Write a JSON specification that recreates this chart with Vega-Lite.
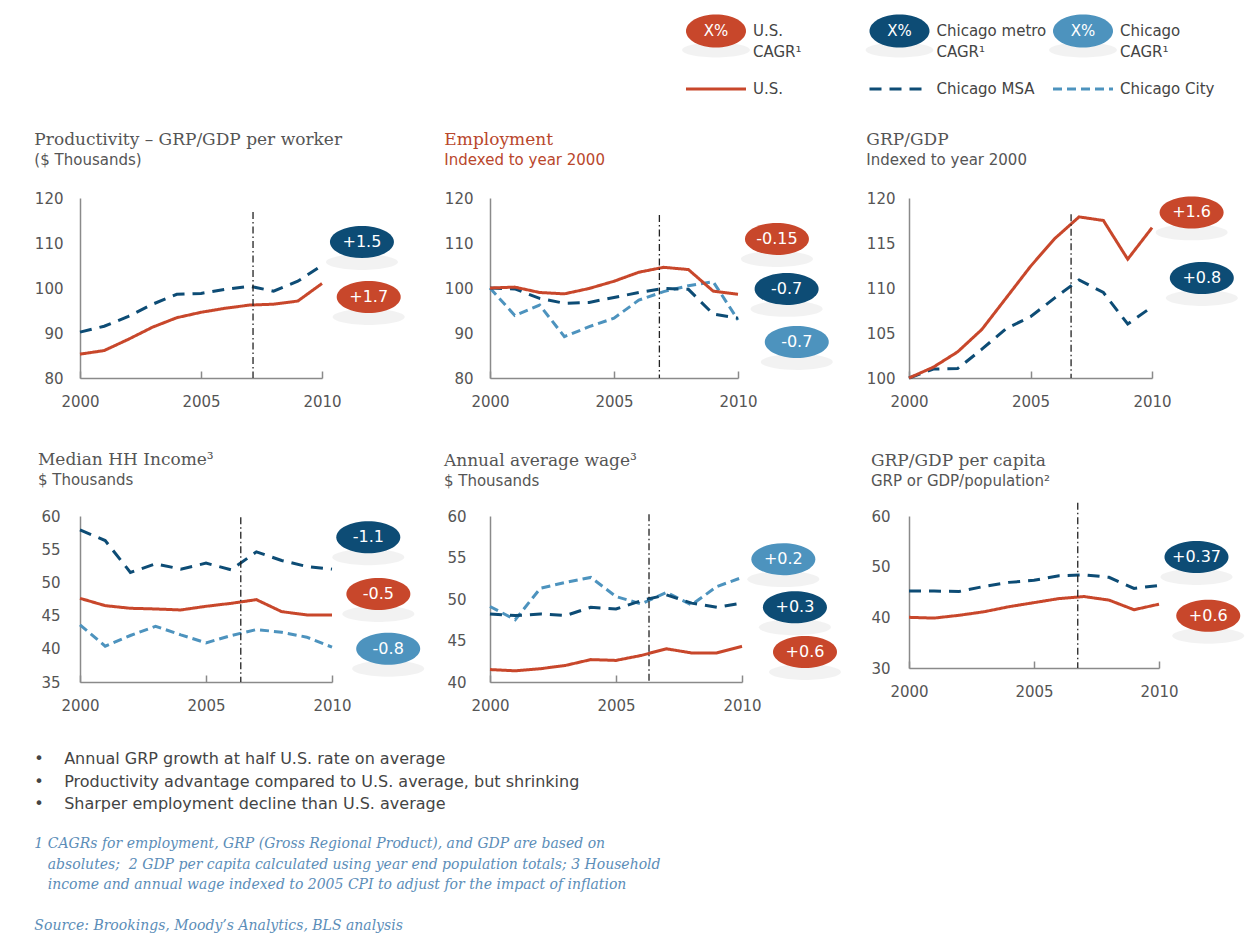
{
  "$schema": "https://vega.github.io/schema/vega-lite/v6.json",
  "padding": {"left": 34, "top": 14, "right": 5, "bottom": 5},
  "background": "white",
  "datasets": {
    "series": [
      {"panel": "prod", "year": 2000, "US": 85.3, "MSA": 90.2},
      {"panel": "prod", "year": 2001, "US": 86.1, "MSA": 91.5},
      {"panel": "prod", "year": 2002, "US": 88.6, "MSA": 93.7},
      {"panel": "prod", "year": 2003, "US": 91.3, "MSA": 96.4},
      {"panel": "prod", "year": 2004, "US": 93.4, "MSA": 98.6},
      {"panel": "prod", "year": 2005, "US": 94.6, "MSA": 98.8},
      {"panel": "prod", "year": 2006, "US": 95.5, "MSA": 99.7},
      {"panel": "prod", "year": 2007, "US": 96.2, "MSA": 100.4},
      {"panel": "prod", "year": 2008, "US": 96.4, "MSA": 99.3},
      {"panel": "prod", "year": 2009, "US": 97.1, "MSA": 101.5},
      {"panel": "prod", "year": 2010, "US": 101.0, "MSA": 105.0},
      {"panel": "emp", "year": 2000, "US": 100, "MSA": 100, "City": 100},
      {"panel": "emp", "year": 2001, "US": 100.2, "MSA": 99.8, "City": 93.9},
      {"panel": "emp", "year": 2002, "US": 99.0, "MSA": 97.7, "City": 96.2},
      {"panel": "emp", "year": 2003, "US": 98.7, "MSA": 96.6, "City": 89.2},
      {"panel": "emp", "year": 2004, "US": 99.9, "MSA": 96.8, "City": 91.4},
      {"panel": "emp", "year": 2005, "US": 101.5, "MSA": 97.9, "City": 93.3},
      {"panel": "emp", "year": 2006, "US": 103.5, "MSA": 99.0, "City": 97.3},
      {"panel": "emp", "year": 2007, "US": 104.6, "MSA": 99.9, "City": 99.2},
      {"panel": "emp", "year": 2008, "US": 104.1, "MSA": 99.7, "City": 100.5},
      {"panel": "emp", "year": 2009, "US": 99.3, "MSA": 94.2, "City": 101.4},
      {"panel": "emp", "year": 2010, "US": 98.6, "MSA": 93.3, "City": 92.9},
      {"panel": "gdp", "year": 2000, "US": 100, "MSA": 100},
      {"panel": "gdp", "year": 2001, "US": 101.2, "MSA": 101.0},
      {"panel": "gdp", "year": 2002, "US": 102.9, "MSA": 101.05},
      {"panel": "gdp", "year": 2003, "US": 105.4, "MSA": 103.2},
      {"panel": "gdp", "year": 2004, "US": 108.9, "MSA": 105.5},
      {"panel": "gdp", "year": 2005, "US": 112.4, "MSA": 106.8},
      {"panel": "gdp", "year": 2006, "US": 115.5, "MSA": 108.9},
      {"panel": "gdp", "year": 2007, "US": 117.9, "MSA": 110.9},
      {"panel": "gdp", "year": 2008, "US": 117.5, "MSA": 109.5},
      {"panel": "gdp", "year": 2009, "US": 113.2, "MSA": 106.0},
      {"panel": "gdp", "year": 2010, "US": 116.7, "MSA": 107.9},
      {"panel": "income", "year": 2000, "US": 47.6, "MSA": 57.9, "City": 43.6},
      {"panel": "income", "year": 2001, "US": 46.5, "MSA": 56.3, "City": 40.4},
      {"panel": "income", "year": 2002, "US": 46.1, "MSA": 51.5, "City": 42.0},
      {"panel": "income", "year": 2003, "US": 46.0, "MSA": 52.8, "City": 43.4},
      {"panel": "income", "year": 2004, "US": 45.85, "MSA": 52.0, "City": 42.1},
      {"panel": "income", "year": 2005, "US": 46.4, "MSA": 52.9, "City": 40.9},
      {"panel": "income", "year": 2006, "US": 46.85, "MSA": 51.9, "City": 42.0},
      {"panel": "income", "year": 2007, "US": 47.4, "MSA": 54.6, "City": 42.9},
      {"panel": "income", "year": 2008, "US": 45.6, "MSA": 53.3, "City": 42.5},
      {"panel": "income", "year": 2009, "US": 45.1, "MSA": 52.4, "City": 41.75},
      {"panel": "income", "year": 2010, "US": 45.1, "MSA": 52.0, "City": 40.25},
      {"panel": "wage", "year": 2000, "US": 41.5, "MSA": 48.2, "City": 49.1},
      {"panel": "wage", "year": 2001, "US": 41.35, "MSA": 48.0, "City": 47.5},
      {"panel": "wage", "year": 2002, "US": 41.6, "MSA": 48.2, "City": 51.3},
      {"panel": "wage", "year": 2003, "US": 42.0, "MSA": 48.0, "City": 52.0},
      {"panel": "wage", "year": 2004, "US": 42.7, "MSA": 49.0, "City": 52.6},
      {"panel": "wage", "year": 2005, "US": 42.6, "MSA": 48.8, "City": 50.3},
      {"panel": "wage", "year": 2006, "US": 43.2, "MSA": 49.8, "City": 49.4},
      {"panel": "wage", "year": 2007, "US": 44.0, "MSA": 50.5, "City": 50.8},
      {"panel": "wage", "year": 2008, "US": 43.5, "MSA": 49.5, "City": 49.3},
      {"panel": "wage", "year": 2009, "US": 43.5, "MSA": 49.0, "City": 51.5},
      {"panel": "wage", "year": 2010, "US": 44.3, "MSA": 49.5, "City": 52.6},
      {"panel": "percap", "year": 2000, "US": 40.0, "MSA": 45.2},
      {"panel": "percap", "year": 2001, "US": 39.85, "MSA": 45.2},
      {"panel": "percap", "year": 2002, "US": 40.4, "MSA": 45.1},
      {"panel": "percap", "year": 2003, "US": 41.1, "MSA": 46.1},
      {"panel": "percap", "year": 2004, "US": 42.1, "MSA": 46.9},
      {"panel": "percap", "year": 2005, "US": 42.9, "MSA": 47.3},
      {"panel": "percap", "year": 2006, "US": 43.7, "MSA": 48.2},
      {"panel": "percap", "year": 2007, "US": 44.1, "MSA": 48.4},
      {"panel": "percap", "year": 2008, "US": 43.4, "MSA": 47.9},
      {"panel": "percap", "year": 2009, "US": 41.5, "MSA": 45.7},
      {"panel": "percap", "year": 2010, "US": 42.6, "MSA": 46.3}
    ],
    "badges": [
      {"panel": "prod", "series": "MSA", "label": "+1.5", "year": 2011.65, "value": 110.2},
      {"panel": "prod", "series": "US", "label": "+1.7", "year": 2011.93, "value": 98.0},
      {"panel": "emp", "series": "US", "label": "-0.15", "year": 2011.57, "value": 110.9},
      {"panel": "emp", "series": "MSA", "label": "-0.7", "year": 2011.96, "value": 99.8},
      {"panel": "emp", "series": "City", "label": "-0.7", "year": 2012.37, "value": 88.0},
      {"panel": "gdp", "series": "US", "label": "+1.6", "year": 2011.63, "value": 118.4},
      {"panel": "gdp", "series": "MSA", "label": "+0.8", "year": 2012.05, "value": 111.1},
      {"panel": "income", "series": "MSA", "label": "-1.1", "year": 2011.44, "value": 56.8},
      {"panel": "income", "series": "US", "label": "-0.5", "year": 2011.84, "value": 48.25},
      {"panel": "income", "series": "City", "label": "-0.8", "year": 2012.23, "value": 40.0},
      {"panel": "wage", "series": "City", "label": "+0.2", "year": 2011.64, "value": 54.8},
      {"panel": "wage", "series": "MSA", "label": "+0.3", "year": 2012.1, "value": 49.0},
      {"panel": "wage", "series": "US", "label": "+0.6", "year": 2012.5, "value": 43.6},
      {"panel": "percap", "series": "MSA", "label": "+0.37", "year": 2011.5, "value": 51.9},
      {"panel": "percap", "series": "US", "label": "+0.6", "year": 2011.97, "value": 40.3}
    ],
    "markers": [
      {"panel": "prod", "year": 2007.15, "value": 116.9, "base": 80},
      {"panel": "emp", "year": 2006.83, "value": 116.2, "base": 80},
      {"panel": "gdp", "year": 2006.67, "value": 118.2, "base": 100},
      {"panel": "income", "year": 2006.38, "value": 59.8, "base": 35},
      {"panel": "wage", "year": 2006.31, "value": 60.2, "base": 40},
      {"panel": "percap", "year": 2006.75, "value": 62.6, "base": 30}
    ],
    "legend": [
      {"series": "US", "row": "badge", "badge": "X%", "label": "U.S.\nCAGR¹"},
      {"series": "MSA", "row": "badge", "badge": "X%", "label": "Chicago metro\nCAGR¹"},
      {"series": "City", "row": "badge", "badge": "X%", "label": "Chicago\nCAGR¹"},
      {"series": "US", "row": "line", "label": "U.S."},
      {"series": "MSA", "row": "line", "label": "Chicago MSA"},
      {"series": "City", "row": "line", "label": "Chicago City"}
    ]
  },
  "title": {
    "text": ["•\u00a0\u00a0\u00a0\u00a0Annual GRP growth at half U.S. rate on average", "•\u00a0\u00a0\u00a0\u00a0Productivity advantage compared to U.S. average, but shrinking", "•\u00a0\u00a0\u00a0\u00a0Sharper employment decline than U.S. average"],
    "subtitle": ["1 CAGRs for employment, GRP (Gross Regional Product), and GDP are based on", "\u200b\u00a0\u00a0\u00a0absolutes;\u00a0 2 GDP per capita calculated using year end population totals; 3 Household", "\u200b\u00a0\u00a0\u00a0income and annual wage indexed to 2005 CPI to adjust for the impact of inflation", "\u200b\u00a0\u200b", "Source: Brookings, Moody’s Analytics, BLS analysis"],
    "orient": "bottom",
    "anchor": "start",
    "frame": "bounds",
    "offset": 38,
    "font": "DejaVu Sans",
    "fontSize": 16,
    "fontWeight": "normal",
    "color": "#444444",
    "lineHeight": 22.5,
    "subtitleFont": "DejaVu Serif",
    "subtitleFontStyle": "italic",
    "subtitleFontSize": 14,
    "subtitleColor": "#5B8DB8",
    "subtitleLineHeight": 20.5,
    "subtitlePadding": 25
  },
  "bounds": "flush",
  "spacing": 109,
  "vconcat": [
    {
      "width": 1003,
      "height": 58,
      "data": {"name": "legend"},
      "encoding": {
        "x": {"field": "series", "type": "nominal", "scale": {"type": "point", "domain": ["US", "MSA", "City"], "padding": 0, "range": [636, 1003]}, "axis": null},
        "y": {"field": "row", "type": "nominal", "scale": {"type": "point", "domain": ["badge", "line"], "padding": 0}, "axis": null}
      },
      "layer": [
        {"transform": [{"filter": "datum.row === 'badge'"}], "mark": {"type": "point", "shape": "M-1,0C-1,-0.12,-0.552,-0.22,0,-0.22C0.552,-0.22,1,-0.12,1,0C1,0.12,0.552,0.22,0,0.22C-0.552,0.22,-1,0.12,-1,0Z", "size": 4600, "filled": true, "color": "#000000", "opacity": 0.05, "yOffset": 19, "clip": false}},
        {"transform": [{"filter": "datum.row === 'badge'"}], "mark": {"type": "point", "shape": "M-1,0C-1,-0.304,-0.552,-0.55,0,-0.55C0.552,-0.55,1,-0.304,1,0C1,0.304,0.552,0.55,0,0.55C-0.552,0.55,-1,0.304,-1,0Z", "size": 3600, "filled": true, "opacity": 1, "clip": false}, "encoding": {"color": {"field": "series", "type": "nominal", "scale": {"domain": ["US", "MSA", "City"], "range": ["#C8472B", "#0D4C75", "#4D93BE"]}, "legend": null}}},
        {"transform": [{"filter": "datum.row === 'badge'"}], "mark": {"type": "text", "color": "white", "fontSize": 15, "font": "DejaVu Sans", "clip": false}, "encoding": {"text": {"field": "badge"}}},
        {"transform": [{"filter": "datum.row === 'line'"}], "mark": {"type": "point", "shape": "M-1,0L1,0", "size": 3600, "filled": false, "strokeWidth": 3, "opacity": 1, "clip": false}, "encoding": {
          "color": {"field": "series", "type": "nominal", "scale": {"domain": ["US", "MSA", "City"], "range": ["#C8472B", "#0D4C75", "#4D93BE"]}, "legend": null},
          "strokeDash": {"field": "series", "type": "nominal", "scale": {"domain": ["US", "MSA", "City"], "range": [[1, 0], [12, 8], [9, 5]]}, "legend": null}}},
        {"mark": {"type": "text", "align": "left", "dx": 37, "lineBreak": "\n", "fontSize": 15, "lineHeight": 21, "font": "DejaVu Sans", "color": "#444444", "clip": false}, "encoding": {"text": {"field": "label"}}}
      ]
    },
    {
      "bounds": "flush",
      "spacing": 318,
      "vconcat": [
        {
          "bounds": "flush",
          "spacing": 168,
          "hconcat": [
            {
              "width": 242, "height": 180,
              "title": {"text": "Productivity – GRP/GDP per worker", "subtitle": "($ Thousands)"},
              "encoding": {
                "x": {"field": "year", "type": "quantitative", "scale": {"domain": [2000, 2010]}, "axis": {"title": null, "values": [2000, 2005, 2010], "format": "d"}},
                "y": {"field": "value", "type": "quantitative", "scale": {"domain": [80, 120], "zero": false}, "axis": {"title": null, "values": [80, 90, 100, 110, 120]}}
              },
              "layer": [
                {"data": {"name": "series"}, "transform": [{"filter": "datum.panel === 'prod'"}, {"fold": ["City", "MSA", "US"], "as": ["series", "value"]}, {"filter": "isValid(datum.value)"}],
                 "mark": {"type": "line", "strokeWidth": 3, "clip": false},
                 "encoding": {"color": {"field": "series", "type": "nominal", "scale": {"domain": ["US", "MSA", "City"], "range": ["#C8472B", "#0D4C75", "#4D93BE"]}, "legend": null},
                   "strokeDash": {"field": "series", "type": "nominal", "scale": {"domain": ["US", "MSA", "City"], "range": [[1, 0], [12, 8], [9, 5]]}, "legend": null}}},
                {"data": {"name": "markers"}, "transform": [{"filter": "datum.panel === 'prod'"}], "mark": {"type": "rule", "color": "#222222", "strokeWidth": 1.3, "strokeDash": [7, 3, 1.5, 3], "clip": false}, "encoding": {"y2": {"field": "base"}}},
                {"data": {"name": "badges"}, "transform": [{"filter": "datum.panel === 'prod'"}], "mark": {"type": "point", "shape": "M-1,0C-1,-0.12,-0.552,-0.22,0,-0.22C0.552,-0.22,1,-0.12,1,0C1,0.12,0.552,0.22,0,0.22C-0.552,0.22,-1,0.12,-1,0Z", "size": 5200, "filled": true, "color": "#000000", "opacity": 0.05, "yOffset": 20, "clip": false}},
                {"data": {"name": "badges"}, "transform": [{"filter": "datum.panel === 'prod'"}], "mark": {"type": "point", "shape": "M-1,0C-1,-0.276,-0.552,-0.5,0,-0.5C0.552,-0.5,1,-0.276,1,0C1,0.276,0.552,0.5,0,0.5C-0.552,0.5,-1,0.276,-1,0Z", "size": 4096, "filled": true, "opacity": 1, "clip": false},
                 "encoding": {"color": {"field": "series", "type": "nominal", "scale": {"domain": ["US", "MSA", "City"], "range": ["#C8472B", "#0D4C75", "#4D93BE"]}, "legend": null}}},
                {"data": {"name": "badges"}, "transform": [{"filter": "datum.panel === 'prod'"}], "mark": {"type": "text", "color": "white", "fontSize": 16, "font": "DejaVu Sans", "clip": false}, "encoding": {"text": {"field": "label"}}}
              ]
            },
            {
              "bounds": "flush",
              "spacing": 171,
              "hconcat": [
                {
                  "width": 248, "height": 180,
                  "title": {"text": "Employment", "subtitle": "Indexed to year 2000", "color": "#B9472C", "subtitleColor": "#B9472C"},
                  "encoding": {
                    "x": {"field": "year", "type": "quantitative", "scale": {"domain": [2000, 2010]}, "axis": {"title": null, "values": [2000, 2005, 2010], "format": "d"}},
                    "y": {"field": "value", "type": "quantitative", "scale": {"domain": [80, 120], "zero": false}, "axis": {"title": null, "values": [80, 90, 100, 110, 120]}}
                  },
                  "layer": [
                    {"data": {"name": "series"}, "transform": [{"filter": "datum.panel === 'emp'"}, {"fold": ["City", "MSA", "US"], "as": ["series", "value"]}, {"filter": "isValid(datum.value)"}],
                     "mark": {"type": "line", "strokeWidth": 3, "clip": false},
                     "encoding": {"color": {"field": "series", "type": "nominal", "scale": {"domain": ["US", "MSA", "City"], "range": ["#C8472B", "#0D4C75", "#4D93BE"]}, "legend": null},
                       "strokeDash": {"field": "series", "type": "nominal", "scale": {"domain": ["US", "MSA", "City"], "range": [[1, 0], [12, 8], [9, 5]]}, "legend": null}}},
                    {"data": {"name": "markers"}, "transform": [{"filter": "datum.panel === 'emp'"}], "mark": {"type": "rule", "color": "#222222", "strokeWidth": 1.3, "strokeDash": [7, 3, 1.5, 3], "clip": false}, "encoding": {"y2": {"field": "base"}}},
                    {"data": {"name": "badges"}, "transform": [{"filter": "datum.panel === 'emp'"}], "mark": {"type": "point", "shape": "M-1,0C-1,-0.12,-0.552,-0.22,0,-0.22C0.552,-0.22,1,-0.12,1,0C1,0.12,0.552,0.22,0,0.22C-0.552,0.22,-1,0.12,-1,0Z", "size": 5200, "filled": true, "color": "#000000", "opacity": 0.05, "yOffset": 20, "clip": false}},
                    {"data": {"name": "badges"}, "transform": [{"filter": "datum.panel === 'emp'"}], "mark": {"type": "point", "shape": "M-1,0C-1,-0.276,-0.552,-0.5,0,-0.5C0.552,-0.5,1,-0.276,1,0C1,0.276,0.552,0.5,0,0.5C-0.552,0.5,-1,0.276,-1,0Z", "size": 4096, "filled": true, "opacity": 1, "clip": false},
                     "encoding": {"color": {"field": "series", "type": "nominal", "scale": {"domain": ["US", "MSA", "City"], "range": ["#C8472B", "#0D4C75", "#4D93BE"]}, "legend": null}}},
                    {"data": {"name": "badges"}, "transform": [{"filter": "datum.panel === 'emp'"}], "mark": {"type": "text", "color": "white", "fontSize": 16, "font": "DejaVu Sans", "clip": false}, "encoding": {"text": {"field": "label"}}}
                  ]
                },
                {
                  "width": 243, "height": 180,
                  "title": {"text": "GRP/GDP", "subtitle": "Indexed to year 2000"},
                  "encoding": {
                    "x": {"field": "year", "type": "quantitative", "scale": {"domain": [2000, 2010]}, "axis": {"title": null, "values": [2000, 2005, 2010], "format": "d"}},
                    "y": {"field": "value", "type": "quantitative", "scale": {"domain": [100, 120], "zero": false}, "axis": {"title": null, "values": [100, 105, 110, 115, 120], "labelPadding": 14}}
                  },
                  "layer": [
                    {"data": {"name": "series"}, "transform": [{"filter": "datum.panel === 'gdp'"}, {"fold": ["City", "MSA", "US"], "as": ["series", "value"]}, {"filter": "isValid(datum.value)"}],
                     "mark": {"type": "line", "strokeWidth": 3, "clip": false},
                     "encoding": {"color": {"field": "series", "type": "nominal", "scale": {"domain": ["US", "MSA", "City"], "range": ["#C8472B", "#0D4C75", "#4D93BE"]}, "legend": null},
                       "strokeDash": {"field": "series", "type": "nominal", "scale": {"domain": ["US", "MSA", "City"], "range": [[1, 0], [12, 8], [9, 5]]}, "legend": null}}},
                    {"data": {"name": "markers"}, "transform": [{"filter": "datum.panel === 'gdp'"}], "mark": {"type": "rule", "color": "#222222", "strokeWidth": 1.3, "strokeDash": [7, 3, 1.5, 3], "clip": false}, "encoding": {"y2": {"field": "base"}}},
                    {"data": {"name": "badges"}, "transform": [{"filter": "datum.panel === 'gdp'"}], "mark": {"type": "point", "shape": "M-1,0C-1,-0.12,-0.552,-0.22,0,-0.22C0.552,-0.22,1,-0.12,1,0C1,0.12,0.552,0.22,0,0.22C-0.552,0.22,-1,0.12,-1,0Z", "size": 5200, "filled": true, "color": "#000000", "opacity": 0.05, "yOffset": 20, "clip": false}},
                    {"data": {"name": "badges"}, "transform": [{"filter": "datum.panel === 'gdp'"}], "mark": {"type": "point", "shape": "M-1,0C-1,-0.276,-0.552,-0.5,0,-0.5C0.552,-0.5,1,-0.276,1,0C1,0.276,0.552,0.5,0,0.5C-0.552,0.5,-1,0.276,-1,0Z", "size": 4096, "filled": true, "opacity": 1, "clip": false},
                     "encoding": {"color": {"field": "series", "type": "nominal", "scale": {"domain": ["US", "MSA", "City"], "range": ["#C8472B", "#0D4C75", "#4D93BE"]}, "legend": null}}},
                    {"data": {"name": "badges"}, "transform": [{"filter": "datum.panel === 'gdp'"}], "mark": {"type": "text", "color": "white", "fontSize": 16, "font": "DejaVu Sans", "clip": false}, "encoding": {"text": {"field": "label"}}}
                  ]
                }
              ]
            }
          ]
        },
        {
          "bounds": "flush",
          "spacing": 158,
          "hconcat": [
            {
              "width": 252, "height": 166,
              "title": {"text": "Median HH Income³", "subtitle": "$ Thousands", "offset": 20, "dx": -3},
              "encoding": {
                "x": {"field": "year", "type": "quantitative", "scale": {"domain": [2000, 2010]}, "axis": {"title": null, "values": [2000, 2005, 2010], "format": "d"}},
                "y": {"field": "value", "type": "quantitative", "scale": {"domain": [35, 60], "zero": false}, "axis": {"title": null, "values": [35, 40, 45, 50, 55, 60], "labelPadding": 20}}
              },
              "layer": [
                {"data": {"name": "series"}, "transform": [{"filter": "datum.panel === 'income'"}, {"fold": ["City", "MSA", "US"], "as": ["series", "value"]}, {"filter": "isValid(datum.value)"}],
                 "mark": {"type": "line", "strokeWidth": 3, "clip": false},
                 "encoding": {"color": {"field": "series", "type": "nominal", "scale": {"domain": ["US", "MSA", "City"], "range": ["#C8472B", "#0D4C75", "#4D93BE"]}, "legend": null},
                   "strokeDash": {"field": "series", "type": "nominal", "scale": {"domain": ["US", "MSA", "City"], "range": [[1, 0], [12, 8], [9, 5]]}, "legend": null}}},
                {"data": {"name": "markers"}, "transform": [{"filter": "datum.panel === 'income'"}], "mark": {"type": "rule", "color": "#222222", "strokeWidth": 1.3, "strokeDash": [7, 3, 1.5, 3], "clip": false}, "encoding": {"y2": {"field": "base"}}},
                {"data": {"name": "badges"}, "transform": [{"filter": "datum.panel === 'income'"}], "mark": {"type": "point", "shape": "M-1,0C-1,-0.12,-0.552,-0.22,0,-0.22C0.552,-0.22,1,-0.12,1,0C1,0.12,0.552,0.22,0,0.22C-0.552,0.22,-1,0.12,-1,0Z", "size": 5200, "filled": true, "color": "#000000", "opacity": 0.05, "yOffset": 20, "clip": false}},
                {"data": {"name": "badges"}, "transform": [{"filter": "datum.panel === 'income'"}], "mark": {"type": "point", "shape": "M-1,0C-1,-0.276,-0.552,-0.5,0,-0.5C0.552,-0.5,1,-0.276,1,0C1,0.276,0.552,0.5,0,0.5C-0.552,0.5,-1,0.276,-1,0Z", "size": 4096, "filled": true, "opacity": 1, "clip": false},
                 "encoding": {"color": {"field": "series", "type": "nominal", "scale": {"domain": ["US", "MSA", "City"], "range": ["#C8472B", "#0D4C75", "#4D93BE"]}, "legend": null}}},
                {"data": {"name": "badges"}, "transform": [{"filter": "datum.panel === 'income'"}], "mark": {"type": "text", "color": "white", "fontSize": 16, "font": "DejaVu Sans", "clip": false}, "encoding": {"text": {"field": "label"}}}
              ]
            },
            {
              "bounds": "flush",
              "spacing": 167,
              "hconcat": [
                {
                  "width": 252, "height": 166,
                  "title": {"text": "Annual average wage³", "subtitle": "$ Thousands", "offset": 19, "dx": -3},
                  "encoding": {
                    "x": {"field": "year", "type": "quantitative", "scale": {"domain": [2000, 2010]}, "axis": {"title": null, "values": [2000, 2005, 2010], "format": "d"}},
                    "y": {"field": "value", "type": "quantitative", "scale": {"domain": [40, 60], "zero": false}, "axis": {"title": null, "values": [40, 45, 50, 55, 60], "labelPadding": 24}}
                  },
                  "layer": [
                    {"data": {"name": "series"}, "transform": [{"filter": "datum.panel === 'wage'"}, {"fold": ["City", "MSA", "US"], "as": ["series", "value"]}, {"filter": "isValid(datum.value)"}],
                     "mark": {"type": "line", "strokeWidth": 3, "clip": false},
                     "encoding": {"color": {"field": "series", "type": "nominal", "scale": {"domain": ["US", "MSA", "City"], "range": ["#C8472B", "#0D4C75", "#4D93BE"]}, "legend": null},
                       "strokeDash": {"field": "series", "type": "nominal", "scale": {"domain": ["US", "MSA", "City"], "range": [[1, 0], [12, 8], [9, 5]]}, "legend": null}}},
                    {"data": {"name": "markers"}, "transform": [{"filter": "datum.panel === 'wage'"}], "mark": {"type": "rule", "color": "#222222", "strokeWidth": 1.3, "strokeDash": [7, 3, 1.5, 3], "clip": false}, "encoding": {"y2": {"field": "base"}}},
                    {"data": {"name": "badges"}, "transform": [{"filter": "datum.panel === 'wage'"}], "mark": {"type": "point", "shape": "M-1,0C-1,-0.12,-0.552,-0.22,0,-0.22C0.552,-0.22,1,-0.12,1,0C1,0.12,0.552,0.22,0,0.22C-0.552,0.22,-1,0.12,-1,0Z", "size": 5200, "filled": true, "color": "#000000", "opacity": 0.05, "yOffset": 20, "clip": false}},
                    {"data": {"name": "badges"}, "transform": [{"filter": "datum.panel === 'wage'"}], "mark": {"type": "point", "shape": "M-1,0C-1,-0.276,-0.552,-0.5,0,-0.5C0.552,-0.5,1,-0.276,1,0C1,0.276,0.552,0.5,0,0.5C-0.552,0.5,-1,0.276,-1,0Z", "size": 4096, "filled": true, "opacity": 1, "clip": false},
                     "encoding": {"color": {"field": "series", "type": "nominal", "scale": {"domain": ["US", "MSA", "City"], "range": ["#C8472B", "#0D4C75", "#4D93BE"]}, "legend": null}}},
                    {"data": {"name": "badges"}, "transform": [{"filter": "datum.panel === 'wage'"}], "mark": {"type": "text", "color": "white", "fontSize": 16, "font": "DejaVu Sans", "clip": false}, "encoding": {"text": {"field": "label"}}}
                  ]
                },
                {
                  "width": 250, "height": 152,
                  "title": {"text": "GRP/GDP per capita", "subtitle": "GRP or GDP/population²", "offset": 12},
                  "encoding": {
                    "x": {"field": "year", "type": "quantitative", "scale": {"domain": [2000, 2010]}, "axis": {"title": null, "values": [2000, 2005, 2010], "format": "d"}},
                    "y": {"field": "value", "type": "quantitative", "scale": {"domain": [30, 60], "zero": false}, "axis": {"title": null, "values": [30, 40, 50, 60], "labelPadding": 19}}
                  },
                  "layer": [
                    {"data": {"name": "series"}, "transform": [{"filter": "datum.panel === 'percap'"}, {"fold": ["City", "MSA", "US"], "as": ["series", "value"]}, {"filter": "isValid(datum.value)"}],
                     "mark": {"type": "line", "strokeWidth": 3, "clip": false},
                     "encoding": {"color": {"field": "series", "type": "nominal", "scale": {"domain": ["US", "MSA", "City"], "range": ["#C8472B", "#0D4C75", "#4D93BE"]}, "legend": null},
                       "strokeDash": {"field": "series", "type": "nominal", "scale": {"domain": ["US", "MSA", "City"], "range": [[1, 0], [12, 8], [9, 5]]}, "legend": null}}},
                    {"data": {"name": "markers"}, "transform": [{"filter": "datum.panel === 'percap'"}], "mark": {"type": "rule", "color": "#222222", "strokeWidth": 1.3, "strokeDash": [7, 3, 1.5, 3], "clip": false}, "encoding": {"y2": {"field": "base"}}},
                    {"data": {"name": "badges"}, "transform": [{"filter": "datum.panel === 'percap'"}], "mark": {"type": "point", "shape": "M-1,0C-1,-0.12,-0.552,-0.22,0,-0.22C0.552,-0.22,1,-0.12,1,0C1,0.12,0.552,0.22,0,0.22C-0.552,0.22,-1,0.12,-1,0Z", "size": 5200, "filled": true, "color": "#000000", "opacity": 0.05, "yOffset": 20, "clip": false}},
                    {"data": {"name": "badges"}, "transform": [{"filter": "datum.panel === 'percap'"}], "mark": {"type": "point", "shape": "M-1,0C-1,-0.276,-0.552,-0.5,0,-0.5C0.552,-0.5,1,-0.276,1,0C1,0.276,0.552,0.5,0,0.5C-0.552,0.5,-1,0.276,-1,0Z", "size": 4096, "filled": true, "opacity": 1, "clip": false},
                     "encoding": {"color": {"field": "series", "type": "nominal", "scale": {"domain": ["US", "MSA", "City"], "range": ["#C8472B", "#0D4C75", "#4D93BE"]}, "legend": null}}},
                    {"data": {"name": "badges"}, "transform": [{"filter": "datum.panel === 'percap'"}], "mark": {"type": "text", "color": "white", "fontSize": 16, "font": "DejaVu Sans", "clip": false}, "encoding": {"text": {"field": "label"}}}
                  ]
                }
              ]
            }
          ]
        }
      ]
    }
  ],
  "config": {
    "view": {"stroke": null},
    "font": "DejaVu Sans",
    "axis": {"domainColor": "#8a8a8a", "domainWidth": 1.5, "labelFont": "DejaVu Sans", "labelFontSize": 15, "labelColor": "#555555", "grid": false, "tickColor": "#8a8a8a", "tickWidth": 1.5},
    "axisX": {"tickSize": -7, "labelPadding": 23, "labelFlush": false},
    "axisY": {"ticks": false, "labelPadding": 17},
    "title": {"font": "DejaVu Serif", "fontSize": 17, "fontWeight": "normal", "color": "#555555", "anchor": "start", "frame": "bounds", "offset": 22, "subtitleFont": "DejaVu Sans", "subtitleFontSize": 15, "subtitleColor": "#555555", "subtitlePadding": 4}
  }
}
